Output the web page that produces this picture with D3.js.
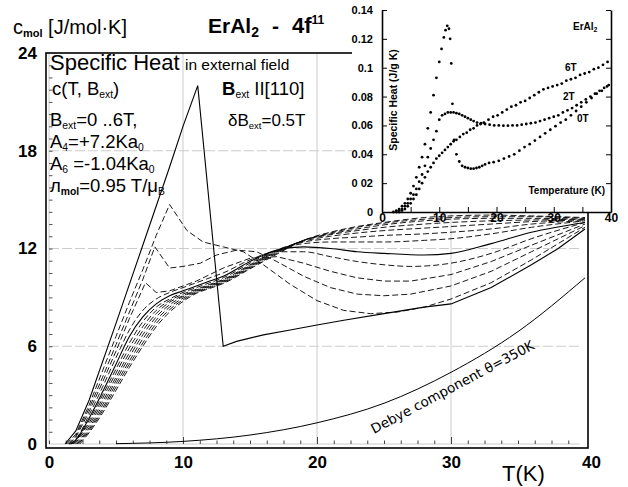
<!DOCTYPE html>
<html lang="en">
<head>
<meta charset="utf-8">
<title>ErAl2 - specific heat in external field</title>
<script src="https://d3js.org/d3.v7.min.js"></script>
<style>
  body { margin: 0; background: #fff; }
  svg { display: block; }
  text { font-family: "Liberation Sans", Arial, sans-serif; fill: #000; }
</style>
</head>
<body>
<script>
// ---- main plot: calculated c(T, B) for B = 0 .. 6 T, step 0.5 T ----
const fields = [0, 0.5, 1, 1.5, 2, 2.5, 3, 3.5, 4, 4.5, 5, 5.5, 6];
const solidFields = [0, 2.5];
const peakedFields = [0, 0.5, 1, 1.5];

const c00 = [[1.2,0],[2,0.8],[3,2.7],[5,7.4],[7,12.2],[9,17.0],[10,19.5],[11.1,22.0],[13,6.0],[14,6.3],[16,6.7],[18,7.0],[20,7.3],[22,7.6],[25,8.0],[28,8.4],[30,8.6],[33,9.6],[36,11.0],[38,12.0],[40,13.2]];
const c05 = [[1.3,0],[2,0.6],[3,2.4],[4,4.5],[5,6.6],[6,8.7],[7,10.7],[8,12.8],[9,14.7],[10.3,13.1],[11.5,12.4],[13,12.1],[14.5,11.8],[16,11.0],[18,9.8],[20,8.8],[22,8.2],[24,8.0],[26,8.1],[28,8.4],[30,8.9],[33,9.9],[36,11.3],[40,13.3]];
const c10 = [[1.4,0],[2,0.5],[3,2.2],[4,4.1],[5,6.1],[6,8.1],[7,10.1],[7.9,12.1],[9,10.8],[10,10.9],[11.3,11.1],[12.5,11.6],[14,11.9],[15.5,11.8],[17,11.2],[19,10.3],[21,9.6],[23,9.2],[25,9.1],[27,9.2],[30,9.7],[33,10.6],[36,11.8],[40,13.4]];
const c15 = [[1.5,0],[2,0.4],[3,2.0],[4,3.8],[5,5.7],[6,7.7],[7.2,9.9],[8,9.3],[9,9.4],[10,9.7],[11,10.0],[12,10.4],[13,10.8],[15,11.4],[17,11.5],[19,11.1],[21,10.6],[23,10.2],[25,10.0],[27,10.0],[30,10.4],[33,11.2],[36,12.2],[40,13.5]];
const c20 = [[1.5,0],[2,0.3],[3,1.8],[4,3.5],[5,5.3],[6,7.0],[7,8.2],[8,8.9],[9,9.3],[10,9.6],[11,9.9],[12,10.2],[13,10.5],[15,11.3],[17,11.8],[19,11.8],[21,11.5],[23,11.2],[25,11.0],[27,10.9],[30,11.1],[33,11.7],[36,12.6],[40,13.6]];
const c25 = [[1.6,0],[2,0.25],[3,1.6],[4,3.2],[5,4.9],[6,6.6],[7,7.8],[8,8.6],[9,9.1],[10,9.4],[11,9.7],[12,10.0],[13,10.3],[15,11.2],[17,11.9],[19,12.1],[21,12.0],[23,11.8],[25,11.7],[28,11.6],[30,11.7],[33,12.3],[36,13.0],[40,13.6]];
const c30 = [[1.7,0],[2,0.2],[3,1.45],[4,3.0],[5,4.6],[6,6.2],[7,7.5],[8,8.4],[9,8.9],[10,9.3],[11,9.6],[12,9.9],[13,10.2],[15,11.1],[17,11.9],[19,12.3],[21,12.4],[23,12.4],[25,12.4],[28,12.5],[30,12.6],[33,12.9],[36,13.3],[40,13.7]];
const c35 = [[1.8,0],[3,1.3],[4,2.8],[5,4.35],[6,5.9],[7,7.2],[8,8.2],[9,8.8],[10,9.2],[11,9.5],[12,9.8],[13,10.1],[15,11.0],[17,11.9],[19,12.4],[21,12.6],[23,12.7],[25,12.8],[28,12.9],[30,13.0],[33,13.2],[36,13.5],[40,13.7]];
const c40 = [[1.9,0],[3,1.15],[4,2.6],[5,4.1],[6,5.6],[7,6.95],[8,8.0],[9,8.7],[10,9.1],[11,9.45],[12,9.75],[13,10.05],[15,10.95],[17,11.85],[19,12.45],[21,12.75],[23,12.95],[25,13.1],[28,13.25],[30,13.35],[33,13.5],[36,13.65],[40,13.75]];
const c45 = [[2.0,0],[3,1.0],[4,2.4],[5,3.9],[6,5.35],[7,6.7],[8,7.8],[9,8.55],[10,9.05],[11,9.4],[12,9.7],[13,10.0],[15,10.9],[17,11.8],[19,12.5],[21,12.85],[23,13.1],[25,13.3],[28,13.5],[30,13.6],[33,13.7],[36,13.75],[40,13.8]];
const c50 = [[2.1,0],[3,0.9],[4,2.2],[5,3.7],[6,5.1],[7,6.45],[8,7.6],[9,8.4],[10,8.95],[11,9.35],[12,9.65],[13,9.95],[15,10.85],[17,11.75],[19,12.5],[21,12.9],[23,13.2],[25,13.45],[28,13.7],[30,13.8],[33,13.85],[36,13.85],[40,13.8]];
const c55 = [[2.2,0],[3,0.8],[4,2.05],[5,3.5],[6,4.9],[7,6.2],[8,7.4],[9,8.25],[10,8.85],[11,9.3],[12,9.6],[13,9.9],[15,10.8],[17,11.7],[19,12.5],[21,12.95],[23,13.3],[25,13.55],[28,13.8],[30,13.9],[33,13.95],[36,13.95],[40,13.85]];
const c60 = [[2.3,0],[3,0.7],[4,1.9],[5,3.3],[6,4.7],[7,6.0],[8,7.2],[9,8.1],[10,8.75],[11,9.25],[12,9.55],[13,9.85],[15,10.75],[17,11.65],[19,12.5],[21,13.0],[23,13.35],[25,13.6],[28,13.9],[30,14.0],[33,14.05],[36,14.0],[40,13.9]];
const curves = [c00, c05, c10, c15, c20, c25, c30, c35, c40, c45, c50, c55, c60];

// Debye lattice part, theta = 350 K
const debye = [[5,0.02],[10,0.16],[15,0.55],[20,1.3],[25,2.5],[30,4.4],[35,6.9],[40,10.2]];

const xTicks = [0, 10, 20, 30, 40];
const yTicks = [0, 6, 12, 18, 24];

// ---- inset: measured specific heat (J/g K) at 0, 2 and 6 T ----
const inT0 = [2,2.5,3,3.5,4,4.5,5,5.5,6,6.5,7,7.5,8,8.5,9,9.5,10,10.4,10.8,11.1,11.4,11.7,11.9,12.1,12.3,12.6,13,13.5,14,14.5,15,15.5,16,16.5,17,17.5,18,18.7,19.5,20.4,21.3,22.2,23.1,24,24.9,25.8,26.7,27.6,28.5,29.4,30.3,31.2,32.1,33,33.9,34.8,35.7,36.6,37.5,38.4,39.3];
const inC0 = [0,0.001,0.002,0.004,0.006,0.009,0.013,0.018,0.024,0.031,0.038,0.047,0.058,0.069,0.081,0.093,0.104,0.113,0.121,0.126,0.129,0.127,0.12,0.103,0.075,0.05,0.04,0.035,0.032,0.031,0.0305,0.030,0.030,0.0305,0.031,0.032,0.033,0.034,0.0345,0.0355,0.037,0.0385,0.040,0.0425,0.045,0.047,0.0495,0.052,0.0545,0.057,0.0595,0.062,0.064,0.067,0.070,0.073,0.076,0.079,0.082,0.084,0.087];
const inT2 = [2.5,3,3.5,4,4.5,5,5.5,6,6.5,7,7.5,8,8.5,9,9.5,10,10.5,11,11.5,12,12.5,13,13.5,14,14.5,15,15.5,16,16.6,17.3,18,18.8,19.6,20.4,21.2,22,22.8,23.6,24.4,25.2,26,26.8,27.6,28.4,29.2,30,30.8,31.6,32.4,33.2,34,34.8,35.6,36.4,37.2,38,38.8,39.6];
const inC2 = [0,0.001,0.002,0.004,0.006,0.009,0.012,0.016,0.021,0.026,0.032,0.038,0.044,0.050,0.056,0.064,0.067,0.068,0.069,0.069,0.069,0.0685,0.068,0.067,0.066,0.065,0.064,0.063,0.062,0.0615,0.061,0.0605,0.060,0.060,0.0598,0.0598,0.060,0.060,0.0605,0.061,0.0615,0.062,0.063,0.064,0.065,0.066,0.067,0.069,0.0705,0.072,0.074,0.076,0.078,0.080,0.082,0.084,0.086,0.088];
const inT6 = [3,3.5,4,4.5,5,5.5,6,6.5,7,7.5,8,8.5,9,9.5,10,10.5,11,11.5,12,12.5,13,13.6,14.2,14.8,15.4,16,16.6,17.2,17.8,18.6,19.4,20.2,21,21.8,22.6,23.4,24.2,25,25.8,26.6,27.4,28.2,29,29.8,30.6,31.4,32.2,33,33.8,34.6,35.4,36.2,37,37.8,38.6,39.4];
const inC6 = [0,0.001,0.002,0.004,0.006,0.009,0.012,0.016,0.020,0.024,0.028,0.031,0.034,0.037,0.039,0.041,0.043,0.045,0.047,0.049,0.050,0.052,0.054,0.055,0.057,0.058,0.060,0.061,0.062,0.064,0.066,0.067,0.069,0.071,0.073,0.074,0.076,0.077,0.079,0.081,0.083,0.085,0.086,0.087,0.088,0.089,0.091,0.092,0.093,0.095,0.096,0.097,0.099,0.100,0.102,0.104];
const inYTicks = [0, 0.02, 0.04, 0.06, 0.08, 0.1, 0.12, 0.14];
const inYLabels = ["0", "0 02", "0.04", "0.06", "0.08", "0.1", "0.12", "0.14"];
const inXTicks = [0, 10, 20, 30, 40];

const W = 628, H = 487;
const svg = d3.select("body").append("svg").attr("width", W).attr("height", H);

const x = d3.scaleLinear().domain([0, 40]).range([49, 585]);
const y = d3.scaleLinear().domain([0, 24]).range([444, 53]);

// grid
const grid = svg.append("g").attr("stroke", "#cccccc").attr("stroke-width", 1);
grid.selectAll(".vg").data([10, 20, 30]).join("line")
  .attr("x1", d => x(d)).attr("x2", d => x(d))
  .attr("y1", y(24)).attr("y2", y(0));
grid.append("line").attr("x1", x(0)).attr("x2", x(0)).attr("y1", y(24)).attr("y2", y(0));
grid.selectAll(".hg").data([6, 12, 18]).join("line")
  .attr("x1", x(0)).attr("x2", x(39.6))
  .attr("y1", d => y(d)).attr("y2", d => y(d))
  .attr("stroke-dasharray", "10,3");
grid.append("line").attr("x1", x(0)).attr("x2", x(39.6)).attr("y1", y(0)).attr("y2", y(0));

// minor ticks
svg.append("g").attr("transform", `translate(0,${y(0)})`)
  .call(d3.axisBottom(x).tickValues(d3.range(0, 40, 1.25)).tickSize(-3.5).tickFormat(""))
  .call(g => g.select(".domain").remove())
  .selectAll("line").attr("stroke", "#444");
svg.append("g").attr("transform", `translate(0,${y(0)})`)
  .call(d3.axisBottom(x).tickValues([10, 20, 30]).tickSize(-7).tickFormat(""))
  .call(g => g.select(".domain").remove())
  .selectAll("line").attr("stroke", "#444");
svg.append("g").attr("transform", `translate(${x(0)},0)`)
  .call(d3.axisRight(y).tickValues(d3.range(0.75, 24, 0.75)).tickSize(3.5).tickFormat(""))
  .call(g => g.select(".domain").remove())
  .selectAll("line").attr("stroke", "#555");

// curves
const line = d3.line().x(d => x(d[0])).y(d => y(d[1]));
const cg = svg.append("g").attr("fill", "none").attr("stroke", "#000");
curves.forEach((pts, i) => {
  const B = fields[i];
  const gen = line.curve(peakedFields.includes(B) ? d3.curveLinear : d3.curveMonotoneX);
  cg.append("path")
    .attr("d", gen(pts))
    .attr("stroke-width", solidFields.includes(B) ? 1.1 : 0.9)
    .attr("stroke-dasharray", solidFields.includes(B) ? null : "6,3");
});
cg.append("path").attr("d", line.curve(d3.curveMonotoneX)(debye)).attr("stroke-width", 1);

// frame
svg.append("rect").attr("x", 46).attr("y", 53).attr("width", 542).attr("height", 395)
  .attr("fill", "none").attr("stroke", "#000").attr("stroke-width", 1.6);

// main tick labels
const tickFont = g => g.selectAll("text")
  .style("font-family", '"Liberation Sans Narrow", "Liberation Sans", Arial, sans-serif')
  .style("font-weight", "bold").style("font-size", "17px").attr("fill", "#000");
svg.append("g").attr("transform", "translate(0,448)")
  .call(d3.axisBottom(x).tickValues(xTicks).tickSize(0).tickPadding(8).tickFormat(d => d))
  .call(g => g.select(".domain").remove())
  .call(tickFont)
  .call(g => g.selectAll("text").filter(d => d === 40).attr("dx", 6));
svg.append("g").attr("transform", "translate(46,0)")
  .call(d3.axisLeft(y).tickValues(yTicks).tickSize(0).tickPadding(9).tickFormat(d => d))
  .call(g => g.select(".domain").remove())
  .call(tickFont);

// rich text helper (sub / superscripts)
function rich(x0, y0, size, parts) {
  const t = svg.append("text").attr("x", x0).attr("y", y0).style("font-size", size + "px");
  let shift = 0;
  parts.forEach(([str, kind, weight, fs]) => {
    let target = 0, s = fs || size;
    if (kind === "sub") { target = size * 0.17; s = fs || size * 0.56; }
    if (kind === "sup") { target = -size * 0.42; s = fs || size * 0.58; }
    const ts = t.append("tspan").text(str).attr("dy", target - shift).style("font-size", s + "px");
    if (weight) ts.style("font-weight", weight);
    shift = target;
  });
  return t;
}

// title row
rich(13, 34, 20, [["c"], ["mol", "sub", "bold", 11], ["  [J/mol·K]"]]);
rich(208, 33, 21, [["ErAl", null, "bold"], ["2", "sub", "bold", 14]]);
rich(272, 33, 21, [["-", null, "bold"]]);
rich(292, 33, 22, [["4f", null, "bold"], ["11", "sup", "bold", 12]]);

// annotation block
rich(50, 70, 22, [["Specific Heat"]]);
rich(185, 70, 15.5, [["in external field"]]);
rich(52, 95, 18.5, [["c(T, B"], ["ext", "sub"], [")"]]);
rich(222, 95, 18.5, [["B", null, "bold"], ["ext", "sub"], [" II[110]"]]);
rich(50, 126, 18.5, [["B"], ["ext", "sub"], ["=0  ..6T,"]]);
rich(228, 126, 17, [["δB"], ["ext", "sub"], ["=0.5T"]]);
rich(50, 148, 18.5, [["A"], ["4", "sub"], ["=+7.2Ka"], ["0", "sub"]]);
rich(50, 170, 18.5, [["A"], ["6", "sub"], [" =-1.04Ka"], ["0", "sub"]]);
rich(50, 192, 18.5, [["л", null, null], ["mol", "sub", "bold"], ["=0.95 T/μ"], ["B", "sub"]]);

// x axis title
svg.append("text").attr("x", 502).attr("y", 481).style("font-size", "22px").text("T(K)");

// Debye label
svg.append("text").attr("transform", "translate(374,434) rotate(-28)")
  .style("font-family", '"DejaVu Sans", sans-serif').style("font-size", "13.5px")
  .text("Debye component θ=350K");

// ---- inset ----
const xi = d3.scaleLinear().domain([0, 40]).range([382, 611]);
const yi = d3.scaleLinear().domain([0, 0.14]).range([212, 10]);

svg.append("rect").attr("x", 352).attr("y", 0).attr("width", 276).attr("height", 212).attr("fill", "#fff");

const ins = svg.append("g");
const inFont = (g, fs) => g.selectAll("text")
  .style("font-family", '"Liberation Sans", Arial, sans-serif')
  .style("font-weight", "bold").style("font-size", fs + "px").attr("fill", "#000");

ins.append("g").attr("transform", `translate(${xi(0)},0)`)
  .call(d3.axisLeft(yi).tickValues(inYTicks).tickSizeInner(-5).tickSizeOuter(0).tickPadding(9)
    .tickFormat((d, i) => inYLabels[i]))
  .call(g => inFont(g, 11))
  .call(g => g.select(".domain").attr("stroke-width", 1.6));
ins.append("g").attr("transform", `translate(${xi(40)},0)`)
  .call(d3.axisRight(yi).tickValues(inYTicks).tickSizeInner(-5).tickSizeOuter(0).tickFormat(""))
  .call(g => g.select(".domain").attr("stroke-width", 1.6));
ins.append("g").attr("transform", `translate(0,${yi(0)})`)
  .call(d3.axisBottom(xi).tickValues(inXTicks).tickSizeInner(-5).tickSizeOuter(0).tickPadding(1).tickFormat(d => d))
  .call(g => inFont(g, 12))
  .call(g => g.select(".domain").attr("stroke-width", 1.6));
ins.append("g").attr("transform", `translate(0,${yi(0)})`)
  .call(d3.axisBottom(xi).tickValues([5, 15, 25, 35]).tickSize(-5).tickFormat(""))
  .call(g => g.select(".domain").remove());

const series = [[inT0, inC0], [inT2, inC2], [inT6, inC6]];
series.forEach(([ts, cs]) => {
  ins.append("g").selectAll("circle").data(ts).join("circle")
    .attr("cx", d => xi(d)).attr("cy", (d, i) => yi(cs[i])).attr("r", 1.4).attr("fill", "#000");
});

const lab = (x0, y0, fs, parts, anchor) => {
  const t = rich(x0, y0, fs, parts);
  t.style("font-weight", "bold");
  if (anchor) t.attr("text-anchor", anchor);
  return t;
};
lab(573, 30, 10, [["ErAl"], ["2", "sub", "bold", 7]]);
lab(565, 71, 10, [["6T"]]);
lab(563, 100, 10, [["2T"]]);
lab(577, 122, 10, [["0T"]]);
lab(605, 194, 10, [["Temperature (K)"]], "end");
svg.append("text").attr("transform", "translate(397,100) rotate(-90)")
  .attr("text-anchor", "middle").style("font-weight", "bold").style("font-size", "10.5px")
  .text("Specific Heat (J/g K)");
</script>
</body>
</html>
